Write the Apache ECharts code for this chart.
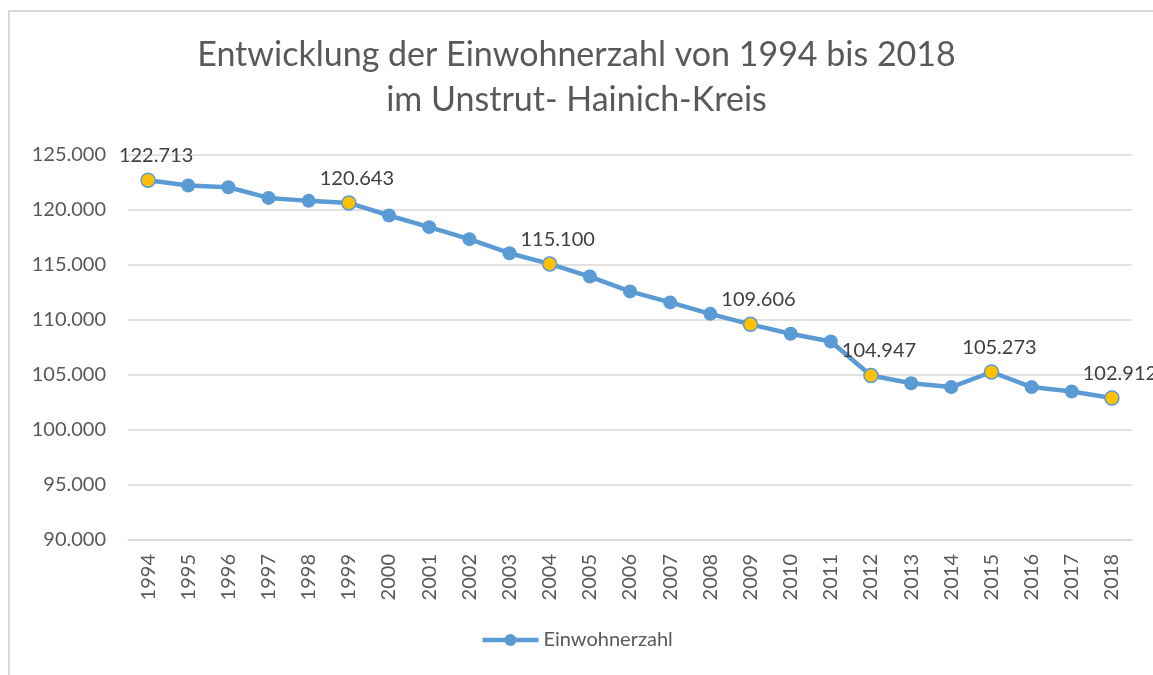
<!DOCTYPE html>
<html>
<head>
<meta charset="utf-8">
<script src="https://cdn.jsdelivr.net/npm/echarts@6/dist/echarts.min.js"></script>
<style>
  html, body { margin: 0; padding: 0; background: #fff; }
  #frame { position: absolute; left: 8px; top: 10px; width: 1145px; height: 665px;
           border-left: 2px solid #d9d9d9; border-top: 2px solid #d9d9d9; box-sizing: border-box; }
  #chart { position: absolute; left: 0; top: 0; width: 1153px; height: 675px; }
</style>
</head>
<body>
<div id="frame"></div>
<div id="chart"></div>
<script>
const years = ['1994', '1995', '1996', '1997', '1998', '1999', '2000', '2001', '2002', '2003', '2004', '2005',
  '2006', '2007', '2008', '2009', '2010', '2011', '2012', '2013', '2014', '2015', '2016', '2017', '2018'];
const einwohner = [122713, 122230, 122070, 121100, 120830, 120643, 119500, 118440, 117350, 116070, 115100, 113950,
  112600, 111600, 110560, 109606, 108750, 108050, 104947, 104250, 103900, 105273, 103900, 103500, 102912];
// years with a value label and yellow marker
const labelled = ['1994', '1999', '2004', '2009', '2012', '2015', '2018'];

const font = 'Lato, "Open Sans", sans-serif';
const fmt = v => v.toLocaleString('de-DE');

const chart = echarts.init(document.getElementById('chart'));

const seriesData = einwohner.map((v, i) => {
  if (labelled.indexOf(years[i]) < 0) return v;
  return {
    value: v,
    itemStyle: { color: '#FFC000', borderColor: '#5B9BD5', borderWidth: 1.5 },
    label: {
      show: true,
      position: 'top',
      offset: [8, -2],
      formatter: p => fmt(p.value),
      color: '#404040',
      fontSize: 20,
      fontFamily: font
    }
  };
});

const option = {
  animation: false,
  title: {
    text: 'Entwicklung der Einwohnerzahl von 1994 bis 2018\nim Unstrut- Hainich-Kreis',
    left: 'center',
    top: 28,
    textStyle: { fontSize: 34, fontWeight: 'normal', color: '#595959', fontFamily: font, lineHeight: 45 }
  },
  legend: {
    bottom: 20,
    left: 'center',
    itemWidth: 56,
    itemHeight: 15,
    data: ['Einwohnerzahl'],
    lineStyle: { width: 4.5 },
    textStyle: { fontSize: 20, color: '#595959', fontFamily: font }
  },
  grid: { left: 128, right: 21, top: 155, bottom: 135 },
  xAxis: {
    type: 'category',
    data: years,
    boundaryGap: true,
    axisLine: { lineStyle: { color: '#d9d9d9', width: 1.5 } },
    axisTick: { show: false },
    axisLabel: { rotate: 90, fontSize: 20, color: '#595959', fontFamily: font, margin: 14 }
  },
  yAxis: {
    type: 'value',
    min: 90000,
    max: 125000,
    interval: 5000,
    axisLine: { show: false },
    axisTick: { show: false },
    splitLine: { lineStyle: { color: '#d9d9d9', width: 1.5 } },
    axisLabel: { formatter: v => fmt(v), fontSize: 20, color: '#595959', fontFamily: font, margin: 22 }
  },
  series: [{
    name: 'Einwohnerzahl',
    type: 'line',
    data: seriesData,
    symbol: 'circle',
    symbolSize: 14,
    lineStyle: { color: '#5B9BD5', width: 4.5 },
    itemStyle: { color: '#5B9BD5' }
  }]
};

chart.setOption(option);
</script>
</body>
</html>
